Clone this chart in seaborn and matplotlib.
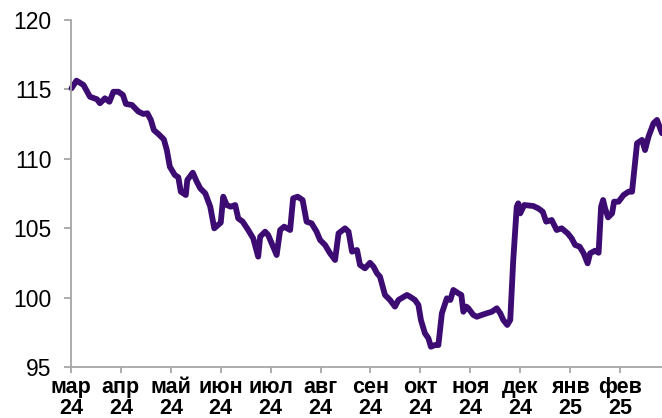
import matplotlib.pyplot as plt
import seaborn as sns
import pandas as pd

# position in months from 1 Mar 2024, index value
month_pos = [0.01, 0.11, 0.25, 0.38, 0.52, 0.58, 0.68, 0.77, 0.85, 0.95,
             1.04, 1.10, 1.22, 1.35, 1.45, 1.53, 1.60, 1.66, 1.75, 1.86,
             1.92, 1.98, 2.08, 2.15, 2.20, 2.30, 2.33, 2.44, 2.52, 2.59,
             2.69, 2.79, 2.87, 3.00, 3.05, 3.12, 3.20, 3.29, 3.35, 3.44,
             3.55, 3.65, 3.75, 3.79, 3.89, 3.95, 4.12, 4.19, 4.27, 4.39,
             4.45, 4.54, 4.64, 4.72, 4.82, 4.92, 4.99, 5.09, 5.19, 5.29,
             5.36, 5.49, 5.56, 5.63, 5.73, 5.79, 5.89, 5.99, 6.06, 6.13,
             6.19, 6.29, 6.39, 6.49, 6.56, 6.73, 6.79, 6.89, 6.96, 7.01,
             7.09, 7.16, 7.21, 7.29, 7.36, 7.43, 7.53, 7.60, 7.66, 7.76,
             7.82, 7.86, 7.92, 7.96, 8.06, 8.13, 8.23, 8.33, 8.43, 8.53,
             8.60, 8.66, 8.74, 8.80, 8.86, 8.93, 8.96, 9.00, 9.08, 9.26,
             9.36, 9.45, 9.52, 9.63, 9.73, 9.83, 9.95, 10.03, 10.10, 10.19,
             10.27, 10.35, 10.40, 10.50, 10.57, 10.62, 10.66, 10.70, 10.76, 10.84,
             10.88, 10.97, 11.07, 11.17, 11.24, 11.34, 11.44, 11.50, 11.57, 11.67,
             11.74, 11.84]

index_vals = [115.08, 115.63, 115.32, 114.47, 114.29, 114.00, 114.36, 114.11, 114.83, 114.83,
              114.60, 113.95, 113.88, 113.40, 113.23, 113.28, 112.80, 112.07, 111.79, 111.40,
              110.63, 109.43, 108.83, 108.67, 107.63, 107.39, 108.47, 109.00, 108.35, 107.87,
              107.51, 106.55, 104.99, 105.40, 107.27, 106.67, 106.55, 106.67, 105.71, 105.47,
              104.87, 104.27, 102.95, 104.39, 104.75, 104.51, 103.07, 104.87, 105.11, 104.87,
              107.15, 107.27, 107.03, 105.47, 105.35, 104.75, 104.15, 103.79, 103.19, 102.71,
              104.63, 104.99, 104.75, 103.31, 103.43, 102.35, 102.11, 102.51, 102.23, 101.75,
              101.51, 100.19, 99.83, 99.35, 99.83, 100.19, 100.07, 99.83, 99.47, 98.39,
              97.43, 97.07, 96.46, 96.58, 96.58, 98.87, 99.95, 99.83, 100.55, 100.31,
              100.19, 98.98, 99.35, 99.23, 98.75, 98.62, 98.75, 98.87, 98.98, 99.23,
              98.87, 98.39, 98.03, 98.39, 102.71, 106.55, 106.79, 106.07, 106.67, 106.60,
              106.43, 106.19, 105.47, 105.59, 104.87, 104.99, 104.63, 104.27, 103.79, 103.67,
              103.19, 102.47, 103.19, 103.38, 103.23, 106.55, 107.03, 106.43, 105.78, 106.07,
              106.91, 106.91, 107.39, 107.63, 107.63, 111.12, 111.36, 110.63, 111.60, 112.56,
              112.80, 111.84]

tick_labels = ["мар\n24", "апр\n24", "май\n24", "июн\n24", "июл\n24", "авг\n24",
               "сен\n24", "окт\n24", "ноя\n24", "дек\n24", "янв\n25", "фев\n25"]
y_ticks = [95, 100, 105, 110, 115, 120]

sns.set_style("white")
plt.rcParams["font.family"] = ["Liberation Sans", "DejaVu Sans"]

df = pd.DataFrame({"m": month_pos, "v": index_vals})

fig = plt.figure(figsize=(6.62, 4.18), dpi=100)
ax = fig.add_axes([71 / 662, 51 / 418, 591 / 662, 347 / 418])

sns.lineplot(data=df, x="m", y="v", ax=ax, color="#3d0c73", linewidth=4.2,
             solid_joinstyle="round", solid_capstyle="round", clip_on=False)

ax.set_xlim(0, 11.84)
ax.set_ylim(95, 120)
ax.set_xticks(range(len(tick_labels)))
ax.set_xticklabels(tick_labels, fontsize=15.5, fontweight="bold", linespacing=0.98,
                   family=["Liberation Sans Narrow", "Liberation Sans", "DejaVu Sans"])
ax.set_yticks(y_ticks)
ax.set_yticklabels([str(t) for t in y_ticks], fontsize=16.5)
ax.set_xlabel(None)
ax.set_ylabel(None)

gray = "#a6a6a6"
for s in ["top", "right"]:
    ax.spines[s].set_visible(False)
for s in ["left", "bottom"]:
    ax.spines[s].set_color(gray)
    ax.spines[s].set_linewidth(1.3)
ax.tick_params(axis="y", direction="out", length=5, width=1.3, color=gray,
               pad=9, left=True, labelcolor="black")
ax.tick_params(axis="x", direction="out", length=4, width=1.3, color=gray,
               pad=3.5, bottom=True, labelcolor="black")

fig.savefig("out.png", dpi=100)
